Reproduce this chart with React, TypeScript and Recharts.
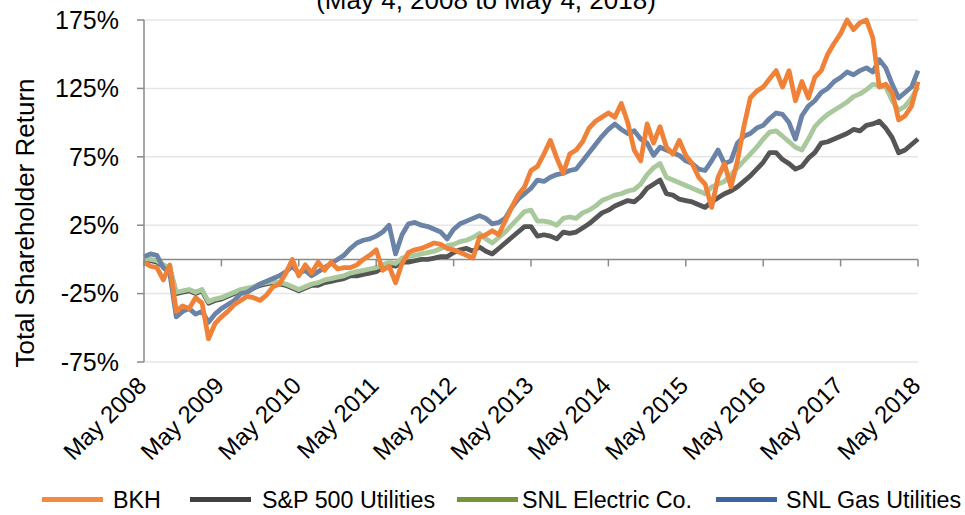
import React from "react";
import { LineChart, Line, XAxis, YAxis, CartesianGrid, ReferenceLine } from "recharts";

// month index 0 = May 2008, 120 = May 2018
const tickMonths = [0, 12, 24, 36, 48, 60, 72, 84, 96, 108, 120];
const tickLabels = [
  "May 2008", "May 2009", "May 2010", "May 2011", "May 2012", "May 2013",
  "May 2014", "May 2015", "May 2016", "May 2017", "May 2018",
];
const yTicks = [-75, -25, 25, 75, 125, 175];

// total shareholder return, % (monthly readings)
const bkh = [
  -2, -5, -6, -15, -4, -38, -34, -36, -28, -32,
  -58, -47, -42, -38, -33, -30, -27, -28, -30, -26,
  -20, -18, -10, 0, -12, -4, -10, -2, -8, -2,
  -7, -6, -6, -4, 0, 3, 7, -8, -5, -17,
  -3, 5, 7, 8, 10, 12, 11, 8, 7, 5,
  3, 1, 16, 18, 21, 18, 28, 38, 47, 53,
  65, 68, 77, 87, 74, 63, 77, 80, 86, 96,
  101, 104, 107, 104, 114, 100, 80, 72, 99, 85,
  97, 82, 77, 87, 76, 70, 60, 55, 38, 60,
  70, 53, 72, 97, 118, 123, 126, 132, 138, 126,
  138, 116, 130, 118, 133, 138, 150, 158, 165, 175,
  168, 173, 175, 162, 126, 128, 122, 102, 105, 112,
  130,
];
const sp500Utilities = [
  0, -1, -2, -5, -7, -25, -24, -23, -25, -23,
  -32, -30, -29, -27, -25, -23, -22, -21, -19, -18,
  -17, -18, -19, -21, -23, -21, -19, -19, -17, -16,
  -15, -14, -12, -12, -11, -10, -9, -6, -4, -5,
  -2, -2, -1, 0, 0, 1, 2, 2, 5, 7,
  8, 6, 9, 6, 4, 8, 12, 16, 20, 24,
  24, 17, 18, 17, 15, 20, 19, 20, 23, 26,
  30, 34, 36, 39, 41, 43, 42, 46, 52, 55,
  58, 48, 47, 44, 43, 42, 40, 38, 42, 45,
  48, 50, 53, 57, 61, 66, 71, 78, 78, 73,
  70, 66, 68, 74, 78, 85, 86, 88, 90, 92,
  95, 94, 98, 99, 101, 96, 89, 78, 80, 84,
  88,
];
const snlElectric = [
  1, 0, -1, -4, -6, -24, -23, -22, -24, -22,
  -31, -29, -28, -26, -24, -22, -21, -20, -18, -17,
  -16, -17, -18, -20, -22, -20, -18, -17, -15, -14,
  -13, -12, -10, -9, -8, -7, -6, -4, -2, -3,
  1, 2, 3, 4, 5, 6, 8, 10, 11, 13,
  14, 16, 19, 15, 12, 16, 20, 25, 30, 35,
  36, 28, 28, 27, 25, 30, 31, 30, 34, 36,
  39, 43, 45, 47, 48, 50, 51, 55, 62, 67,
  70, 60, 58, 56, 54, 52, 50, 48, 53, 55,
  57, 62, 67, 72, 77, 82, 88, 93, 94, 90,
  86, 82, 80, 88, 97, 102, 106, 109, 112, 115,
  119, 121, 124, 128, 127, 126, 116, 109, 112, 118,
  126,
];
const snlGas = [
  2, 4, 3, -6, -10, -42, -38, -36, -40, -38,
  -46, -40, -36, -33, -30, -25, -24, -21, -18, -16,
  -14, -12, -9, -5, -10, -8, -12, -9, -6, -3,
  0, 3, 8, 12, 14, 15, 17, 20, 25, 4,
  18, 26, 27, 25, 24, 22, 20, 15, 22, 26,
  28, 30, 32, 30, 26, 27, 30, 38, 44, 48,
  52, 58, 57, 60, 62, 63, 65, 66, 72, 78,
  84, 90, 95, 99, 95, 92, 94, 88, 85, 76,
  82, 80, 78, 76, 72, 70, 66, 65, 72, 80,
  70, 72, 85, 90, 92, 96, 98, 103, 107, 106,
  100, 88, 105, 112, 116, 122, 125, 130, 133, 137,
  135, 138, 140, 137, 146, 140, 128, 118, 122, 126,
  138,
];

// drawing order: BKH last so it sits on top
const series = [
  { key: "sp", name: "S&P 500 Utilities", line: "#555555" },
  { key: "elec", name: "SNL Electric Co.", line: "#a9c89c" },
  { key: "gas", name: "SNL Gas Utilities", line: "#6a83a6" },
  { key: "bkh", name: "BKH", line: "#ef8238" },
];
const legendItems = [
  { name: "BKH", color: "#f58a3f", left: 42, textLeft: 113 },
  { name: "S&P 500 Utilities", color: "#404040", left: 190, textLeft: 262 },
  { name: "SNL Electric Co.", color: "#77933c", left: 457, textLeft: 522 },
  { name: "SNL Gas Utilities", color: "#3c64a0", left: 716, textLeft: 786 },
];

const W = 965;
const H = 515;
const TOP = 20;
const LEFT = 144;
const RIGHT = 47;
const PLOT_H = 342;
const Y_MIN = -75;
const Y_MAX = 175;
const ZERO_Y = TOP + (PLOT_H * Y_MAX) / (Y_MAX - Y_MIN);
const PLOT_BOTTOM = TOP + PLOT_H;
const FONT = "'Liberation Sans', Arial, sans-serif";
const AXIS = "#8a8a8a";

const data = bkh.map((v, i) => ({
  m: i,
  bkh: v,
  sp: sp500Utilities[i],
  elec: snlElectric[i],
  gas: snlGas[i],
}));

function XTick(props: any) {
  const { x, index } = props;
  const tx = x + 4;
  const ty = PLOT_BOTTOM + 25;
  return (
    <g>
      <line x1={x} x2={x} y1={ZERO_Y} y2={ZERO_Y + 7} stroke={AXIS} strokeWidth={1.5} />
      <text
        x={tx}
        y={ty}
        textAnchor="end"
        fontSize={24}
        fontFamily={FONT}
        fill="#000"
        transform={`rotate(-45, ${tx}, ${ty})`}
      >
        {tickLabels[index]}
      </text>
    </g>
  );
}

export default function App() {
  return (
    <div style={{ position: "absolute", left: 0, top: 0, width: W, height: H, background: "#fff", overflow: "hidden" }}>
      <LineChart
        width={W}
        height={H}
        data={data}
        margin={{ top: TOP, right: RIGHT, left: 0, bottom: H - PLOT_BOTTOM - 30 }}
      >
        <CartesianGrid vertical={false} stroke="#e6e6e6" strokeWidth={1.5} />
        <XAxis
          type="number"
          dataKey="m"
          domain={[0, 120]}
          ticks={tickMonths}
          height={30}
          axisLine={false}
          tickLine={false}
          interval={0}
          tick={<XTick />}
        />
        <YAxis
          width={LEFT}
          domain={[Y_MIN, Y_MAX]}
          ticks={yTicks}
          interval={0}
          tickFormatter={(v: number) => `${v}%`}
          axisLine={{ stroke: AXIS, strokeWidth: 1.5 }}
          tickLine={{ stroke: AXIS, strokeWidth: 1.5 }}
          tickSize={7}
          tickMargin={18}
          tick={{ fontSize: 25, fill: "#000", fontFamily: FONT }}
        />
        <ReferenceLine y={0} stroke={AXIS} strokeWidth={1.5} />
        {series.map((s) => (
          <Line
            key={s.key}
            type="linear"
            dataKey={s.key}
            name={s.name}
            stroke={s.line}
            strokeWidth={4.8}
            strokeLinejoin="round"
            dot={false}
            isAnimationActive={false}
          />
        ))}
      </LineChart>

      <div
        style={{
          position: "absolute",
          left: 486,
          top: -13,
          transform: "translateX(-50%)",
          fontSize: 26,
          lineHeight: "26px",
          fontFamily: FONT,
          whiteSpace: "nowrap",
        }}
      >
        (May 4, 2008 to May 4, 2018)
      </div>

      <div
        style={{
          position: "absolute",
          left: 25,
          top: 223,
          transform: "translate(-50%, -50%) rotate(-90deg)",
          fontSize: 26,
          fontFamily: FONT,
          whiteSpace: "nowrap",
        }}
      >
        Total Shareholder Return
      </div>

      {legendItems.map((l) => (
        <React.Fragment key={l.name}>
          <div
            style={{
              position: "absolute",
              left: l.left,
              top: 497,
              width: 61,
              height: 5,
              background: l.color,
            }}
          />
          <div
            style={{
              position: "absolute",
              left: l.textLeft,
              top: 486,
              height: 28,
              lineHeight: "28px",
              fontSize: 23.3,
              fontFamily: FONT,
              whiteSpace: "nowrap",
            }}
          >
            {l.name}
          </div>
        </React.Fragment>
      ))}
    </div>
  );
}
